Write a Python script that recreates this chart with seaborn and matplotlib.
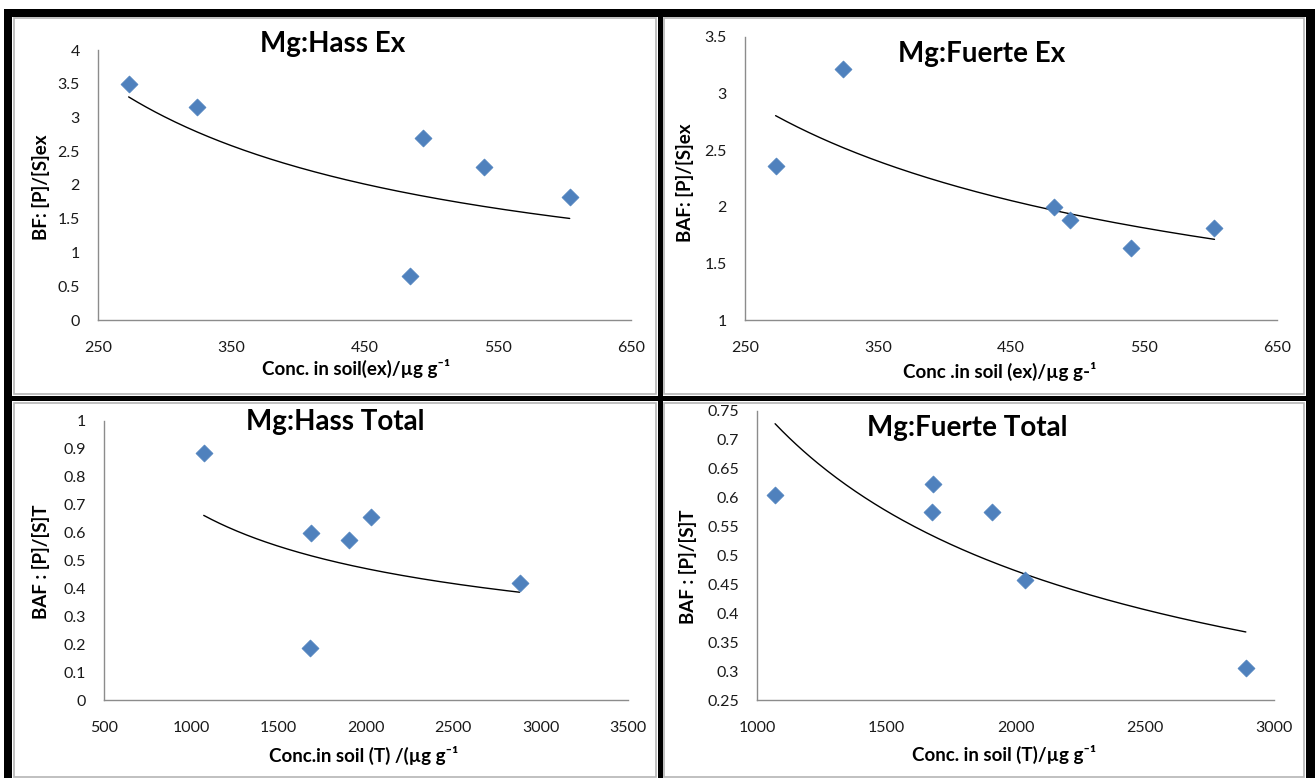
import numpy as np
import pandas as pd
import matplotlib
matplotlib.use("Agg")
import matplotlib.pyplot as plt
from matplotlib.patches import Rectangle
from matplotlib.ticker import FuncFormatter
import seaborn as sns

# ---------------- data ----------------
hass_ex_x = [273, 324, 484, 494, 540, 604]
hass_ex_y = [3.50, 3.16, 0.65, 2.70, 2.27, 1.82]

fuerte_ex_x = [273, 324, 482, 494, 540, 603]
fuerte_ex_y = [2.36, 3.22, 2.00, 1.88, 1.64, 1.81]

hass_t_x = [1071, 1678, 1684, 1900, 2031, 2879]
hass_t_y = [0.886, 0.185, 0.600, 0.573, 0.655, 0.420]

fuerte_t_x = [1070, 1676, 1680, 1909, 2037, 2891]
fuerte_t_y = [0.605, 0.576, 0.623, 0.576, 0.457, 0.306]

titles = ["Mg:Hass Ex", "Mg:Fuerte Ex", "Mg:Hass Total", "Mg:Fuerte Total"]
xlabels = ["Conc. in soil(ex)/\u00b5g g\u207b\u00b9",
           "Conc .in soil (ex)/\u00b5g g-\u00b9",
           "Conc.in soil (T) /(\u00b5g g\u207b\u00b9",
           "Conc. in soil (T)/\u00b5g g\u207b\u00b9"]
ylabels = ["BF: [P]/[S]ex", "BAF: [P]/[S]ex", "BAF : [P]/[S]T", "BAF : [P]/[S]T"]

xticks_ex = [250, 350, 450, 550, 650]
xticks_hass_t = [500, 1000, 1500, 2000, 2500, 3000, 3500]
xticks_fuerte_t = [1000, 1500, 2000, 2500, 3000]
yticks_hass_ex = [0, 0.5, 1, 1.5, 2, 2.5, 3, 3.5, 4]
yticks_fuerte_ex = [1, 1.5, 2, 2.5, 3, 3.5]
yticks_hass_t = [0, 0.1, 0.2, 0.3, 0.4, 0.5, 0.6, 0.7, 0.8, 0.9, 1]
yticks_fuerte_t = [0.25, 0.3, 0.35, 0.4, 0.45, 0.5, 0.55, 0.6, 0.65, 0.7, 0.75]

# ---------------- styling ----------------
sns.set_theme(style="white")
plt.rcParams["font.family"] = ["Lato", "DejaVu Sans"]

W, H = 1315, 778
fig = plt.figure(figsize=(W / 100, H / 100), dpi=100)


def fx(px):
    return px / W


def fy(py):
    return 1 - py / H


def rect(x0, y0, x1, y1, **kw):
    fig.add_artist(Rectangle((fx(x0), fy(y1)), fx(x1) - fx(x0), fy(y0) - fy(y1),
                             transform=fig.transFigure, **kw))


# panel grey borders
for (x0, y0, x1, y1) in [(14, 18, 656, 394), (664, 18, 1304, 394),
                         (14, 403, 656, 777), (664, 403, 1304, 777)]:
    rect(x0, y0, x1, y1, fill=False, edgecolor="#b5b5b5", linewidth=1.2)

# thick black frame and dividers
black = dict(facecolor="black", edgecolor="none")
rect(4, 9, 1315, 17, **black)        # top
rect(4, 9, 12, 778, **black)         # left
rect(1306, 9, 1315, 778, **black)    # right
rect(658, 9, 663, 778, **black)      # vertical divider
rect(4, 396, 1315, 401, **black)     # horizontal divider

panels = [
    dict(x=hass_ex_x, y=hass_ex_y, box=(98, 50, 631, 320), xt=xticks_ex, yt=yticks_hass_ex,
         title=(333, 52), xl=(356, 375), yl=(41, 187)),
    dict(x=fuerte_ex_x, y=fuerte_ex_y, box=(745, 37, 1277, 320), xt=xticks_ex, yt=yticks_fuerte_ex,
         title=(982, 62), xl=(1000, 378), yl=(685, 183)),
    dict(x=hass_t_x, y=hass_t_y, box=(104, 421, 628, 700), xt=xticks_hass_t, yt=yticks_hass_t,
         title=(335, 430), xl=(364, 762), yl=(41, 562)),
    dict(x=fuerte_t_x, y=fuerte_t_y, box=(757, 411, 1274, 700), xt=xticks_fuerte_t, yt=yticks_fuerte_t,
         title=(967, 436), xl=(1004, 761), yl=(688, 567)),
]

fmt = FuncFormatter(lambda v, _: f"{v:g}")

for i, p in enumerate(panels):
    x0, y0, x1, y1 = p["box"]
    ax = fig.add_axes([fx(x0), fy(y1), fx(x1) - fx(x0), fy(y0) - fy(y1)])
    ax.set_facecolor("none")
    df = pd.DataFrame({"x": p["x"], "y": p["y"]})

    # power trend line (least squares in log-log space, as Excel does)
    b, lna = np.polyfit(np.log(df["x"]), np.log(df["y"]), 1)
    xs = np.linspace(df["x"].min(), df["x"].max(), 200)
    trend = pd.DataFrame({"x": xs, "y": np.exp(lna) * xs ** b})
    sns.lineplot(data=trend, x="x", y="y", ax=ax, color="black", linewidth=1.0)

    sns.scatterplot(data=df, x="x", y="y", ax=ax, marker="D", s=75,
                    color="#4F81BD", edgecolor="#4F81BD", linewidth=0.5, zorder=3)

    ax.set_xlim(p["xt"][0], p["xt"][-1])
    ax.set_ylim(p["yt"][0], p["yt"][-1])
    ax.set_xticks(p["xt"])
    ax.set_yticks(p["yt"])
    ax.xaxis.set_major_formatter(fmt)
    ax.yaxis.set_major_formatter(fmt)
    ax.tick_params(axis="both", length=0, labelsize=11.5, colors="#1a1a1a")
    ax.tick_params(axis="x", pad=15)
    ax.tick_params(axis="y", pad=13)
    ax.set_xlabel("")
    ax.set_ylabel("")
    for s in ["top", "right"]:
        ax.spines[s].set_visible(False)
    for s in ["left", "bottom"]:
        ax.spines[s].set_color("#8c8c8c")
        ax.spines[s].set_linewidth(1.0)

    tx, ty = p["title"]
    fig.text(fx(tx), fy(ty), titles[i], ha="center", va="baseline",
             fontsize=20, fontweight="bold", color="black")
    lx, ly = p["xl"]
    fig.text(fx(lx), fy(ly), xlabels[i], ha="center", va="baseline",
             fontsize=13.5, fontweight="bold", color="black")
    yx, yy = p["yl"]
    fig.text(fx(yx), fy(yy), ylabels[i], ha="center", va="center", rotation=90,
             fontsize=13.5, fontweight="bold", color="black")

fig.savefig("out.png", dpi=100, facecolor="white")
